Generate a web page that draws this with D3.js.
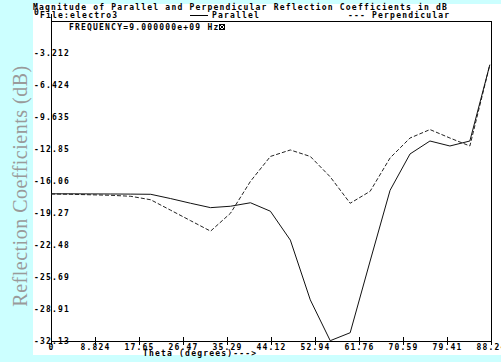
<!DOCTYPE html>
<html>
<head>
<meta charset="utf-8">
<script src="https://cdn.jsdelivr.net/npm/d3@7"></script>
<style>
  body { margin: 0; background: #ccffff; }
  svg { display: block; }
  .mono { font-family: "DejaVu Sans Mono", "Liberation Mono", monospace; font-weight: bold; font-size: 8px; letter-spacing: 1.2px; fill: #000; }
</style>
</head>
<body>
<div id="visualization_container"></div>
<script>
var width = 501;
var height = 362;

// incidence angle, degrees
var theta = [0, 4, 8, 12, 16, 20, 24, 28, 32, 36, 40, 44, 48, 52, 56, 60, 64, 68, 72, 76, 80, 84, 88];
// reflection coefficient, dB
var parallel = [-17.35, -17.35, -17.36, -17.37, -17.38, -17.4, -17.83, -18.3, -18.74, -18.6, -18.25, -19.1,
    -22.0, -28.0, -32.1, -31.3, -24.1, -17.0, -13.35, -12.05, -12.55, -12.05, -4.4];
var perpendicular = [-17.37, -17.4, -17.45, -17.5, -17.6, -17.95, -19.0, -20.05, -21.1, -19.3, -16.1, -13.6,
    -12.95, -13.6, -15.65, -18.3, -17.1, -13.75, -11.75, -10.9, -11.75, -12.55, -4.4];

var xTicks = [0, 8.824, 17.65, 26.47, 35.29, 44.12, 52.94, 61.76, 70.59, 79.41, 88.24];
var xTickLabels = ["0", "8.824", "17.65", "26.47", "35.29", "44.12", "52.94", "61.76", "70.59", "79.41", "88.24"];
var yTicks = [0, -3.212, -6.424, -9.635, -12.85, -16.06, -19.27, -22.48, -25.69, -28.91, -32.13];
var yTickLabels = ["0", "-3.212", "-6.424", "-9.635", "-12.85", "-16.06", "-19.27", "-22.48", "-25.69", "-28.91", "-32.13"];

var margin = {top: 21, right: 10, bottom: 21, left: 51};

var svg = d3.select("#visualization_container")
    .append("svg")
    .attr("width", width)
    .attr("height", height);

// white sheet, cyan shows round it
svg.append("rect")
    .attr("x", 33).attr("y", 4)
    .attr("width", width - 33).attr("height", 351)
    .style("fill", "#fff");

var x = d3.scaleLinear()
    .domain([0, 88.24])
    .range([margin.left, width - margin.right]);

var y = d3.scaleLinear()
    .domain([0, -32.13])
    .range([margin.top, height - margin.bottom]);

// frame: top and right sides
svg.append("path")
    .attr("d", "M" + x(0) + "," + y(0) + "H" + x(88.24) + "V" + y(-32.13))
    .style("fill", "none")
    .style("stroke", "#000")
    .style("shape-rendering", "crispEdges");

// x axis
var xAxis = svg.append("g")
    .attr("class", "x-axis")
    .attr("transform", "translate(0," + y(-32.13) + ")")
    .call(d3.axisBottom(x).tickValues(xTicks).tickFormat((d, i) => xTickLabels[i]).tickSize(4).tickPadding(2));
xAxis.select(".domain").attr("d", "M" + x(0) + ",0H" + x(88.24)).style("shape-rendering", "crispEdges");
xAxis.selectAll(".tick line").attr("y1", -4).attr("y2", 4).style("shape-rendering", "crispEdges");
xAxis.selectAll(".tick text")
    .attr("class", "mono")
    .attr("y", 6)
    .attr("dy", "0.35em")
    .style("font-family", null).style("font-size", null);
xAxis.attr("font-family", null).attr("font-size", null);

// y axis: labels sit on the line, decimal point near it
var yAxis = svg.append("g")
    .attr("class", "y-axis")
    .attr("transform", "translate(" + x(0) + ",0)")
    .call(d3.axisLeft(y).tickValues(yTicks).tickFormat((d, i) => yTickLabels[i]).tickSize(0));
yAxis.select(".domain").attr("d", "M0," + (y(0) - 7) + "V" + (y(-32.13) + 3)).style("shape-rendering", "crispEdges");
yAxis.selectAll(".tick text")
    .attr("class", "mono")
    .attr("x", 34 - x(0))
    .attr("dy", d => d === 0 ? "-0.8em" : "0.35em")
    .attr("text-anchor", "start");
yAxis.attr("font-family", null).attr("font-size", null).attr("text-anchor", null);

var line = d3.line()
    .x((d, i) => x(theta[i]))
    .y(d => y(d));

svg.append("path")
    .datum(perpendicular)
    .attr("d", line)
    .style("fill", "none")
    .style("stroke", "#222")
    .style("stroke-width", 1)
    .style("stroke-dasharray", "4,2");

svg.append("path")
    .datum(parallel)
    .attr("d", line)
    .style("fill", "none")
    .style("stroke", "#111")
    .style("stroke-width", 1);

// header texts
svg.append("text").attr("class", "mono")
    .attr("x", 33).attr("y", 10)
    .text("Magnitude of Parallel and Perpendicular Reflection Coefficients in dB");
svg.append("text").attr("class", "mono")
    .attr("x", 40).attr("y", 18)
    .text("File:electro3");

svg.append("line")
    .attr("x1", 190).attr("x2", 208)
    .attr("y1", 15.5).attr("y2", 15.5)
    .style("stroke", "#000");
svg.append("text").attr("class", "mono")
    .attr("x", 212).attr("y", 18)
    .text("Parallel");
svg.append("text").attr("class", "mono")
    .attr("x", 348).attr("y", 18)
    .text("--- Perpendicular");

svg.append("text").attr("class", "mono")
    .attr("x", 69).attr("y", 30)
    .text("FREQUENCY=9.000000e+09 Hz");
var box = svg.append("g").attr("transform", "translate(219.5,24.5)")
    .style("stroke", "#000").style("fill", "none");
box.append("rect").attr("width", 5).attr("height", 5);
box.append("path").attr("d", "M0,0L5,5M5,0L0,5");

// axis titles
svg.append("text").attr("class", "mono")
    .attr("x", 143).attr("y", 356)
    .text("Theta (degrees)--->");

svg.append("text")
    .attr("transform", "translate(27,186) rotate(-90)")
    .attr("text-anchor", "middle")
    .style("font-family", "'Liberation Serif', 'Times New Roman', serif")
    .style("font-size", "20px")
    .style("letter-spacing", "0.5px")
    .style("fill", "#9a9a9a")
    .text("Reflection Coefficients (dB)");
</script>
</body>
</html>
